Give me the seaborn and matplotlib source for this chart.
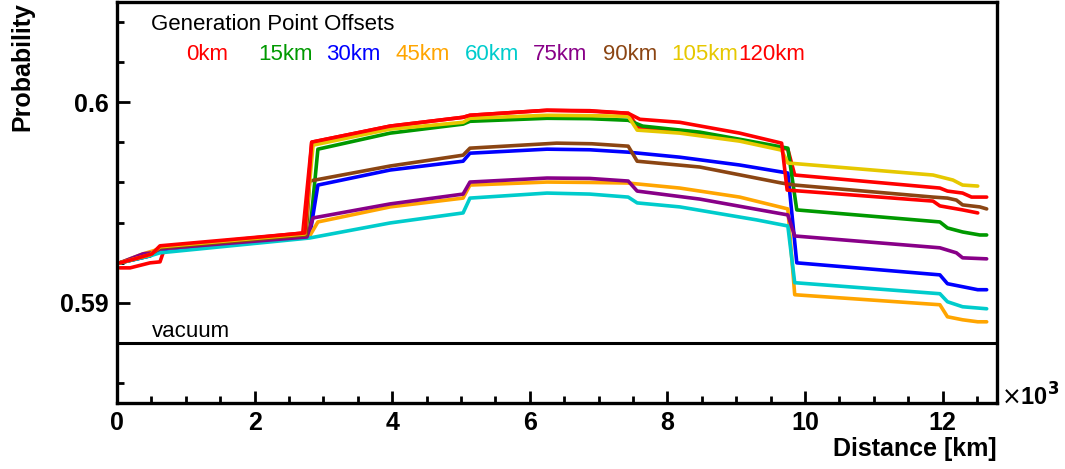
import pandas as pd
import matplotlib
matplotlib.use("Agg")
import matplotlib.pyplot as plt
import seaborn as sns

# Offsets (labels) and colours
offsets = ["0km", "15km", "30km", "45km", "60km", "75km", "90km", "105km", "120km"]
colors = ["#ff0000", "#009900", "#0000ff", "#ffa500", "#00cccc",
          "#880088", "#8b4513", "#e6c800", "#ff0000"]

# distance in km, probability
x_0 = [40, 190, 480, 625, 700, 2700, 2830, 3970, 5030, 5130, 6250, 6900, 7430, 7570,
       8470, 9750, 9850, 11960, 12070, 12290, 12420, 12640]
p_0 = [0.59174, 0.59174, 0.59199, 0.59204, 0.59279, 0.59348, 0.59801, 0.59881, 0.59925,
       0.59935, 0.59960, 0.59955, 0.59945, 0.59876, 0.59846, 0.59766, 0.59637, 0.59572,
       0.59557, 0.59547, 0.59527, 0.59527]

x_15 = [40, 480, 625, 2800, 2920, 3970, 5030, 5130, 6250, 6870, 7430, 7640, 8470, 9120,
        9750, 9880, 11960, 12070, 12290, 12540, 12640]
p_15 = [0.59199, 0.59234, 0.59269, 0.59338, 0.59766, 0.59846, 0.59891, 0.59905, 0.59920,
        0.59918, 0.59910, 0.59881, 0.59851, 0.59811, 0.59771, 0.59463, 0.59403, 0.59373,
        0.59353, 0.59338, 0.59338]

x_30 = [40, 480, 625, 2800, 2920, 3970, 5030, 5130, 6250, 6870, 7430, 8180, 9050, 9750,
        9880, 11960, 12070, 12290, 12510, 12640]
p_30 = [0.59199, 0.59234, 0.59264, 0.59333, 0.59587, 0.59662, 0.59706, 0.59746, 0.59766,
        0.59763, 0.59751, 0.59726, 0.59687, 0.59647, 0.59199, 0.59139, 0.59095, 0.59080,
        0.59065, 0.59065]

x_45 = [40, 380, 625, 2800, 2920, 3970, 5030, 5130, 6250, 6870, 7430, 8180, 9050, 9750,
        9850, 11960, 12070, 12290, 12510, 12640]
p_45 = [0.59199, 0.59244, 0.59269, 0.59333, 0.59403, 0.59478, 0.59522, 0.59587, 0.59602,
        0.59600, 0.59597, 0.59572, 0.59527, 0.59468, 0.59040, 0.58990, 0.58930, 0.58915,
        0.58905, 0.58905]

x_60 = [40, 480, 625, 2800, 3970, 5030, 5130, 6250, 6870, 7430, 7560, 8180, 9300, 9750,
        9850, 11960, 12070, 12290, 12640]
p_60 = [0.59199, 0.59234, 0.59249, 0.59323, 0.59398, 0.59448, 0.59522, 0.59547, 0.59542,
        0.59527, 0.59498, 0.59478, 0.59413, 0.59383, 0.59100, 0.59045, 0.59005, 0.58980,
        0.58970]

x_75 = [40, 380, 510, 625, 2760, 2850, 3970, 5030, 5130, 6250, 6870, 7430, 7560, 8470,
        9750, 9850, 11960, 12200, 12290, 12640]
p_75 = [0.59199, 0.59244, 0.59249, 0.59269, 0.59328, 0.59423, 0.59493, 0.59542, 0.59602,
        0.59622, 0.59620, 0.59607, 0.59557, 0.59517, 0.59438, 0.59333, 0.59274, 0.59249,
        0.59224, 0.59219]

x_90 = [40, 480, 625, 2750, 2800, 3970, 5030, 5130, 6390, 6900, 7430, 7560, 8470, 9660,
        9850, 11860, 12070, 12200, 12290, 12540, 12640]
p_90 = [0.59199, 0.59239, 0.59274, 0.59338, 0.59607, 0.59682, 0.59736, 0.59771, 0.59796,
        0.59793, 0.59781, 0.59706, 0.59677, 0.59597, 0.59587, 0.59527, 0.59522, 0.59512,
        0.59488, 0.59478, 0.59468]

x_105 = [40, 480, 625, 2730, 2850, 3970, 5030, 5130, 6250, 6870, 7430, 7560, 8180, 9050,
         9660, 9750, 11860, 12150, 12290, 12510]
p_105 = [0.59199, 0.59239, 0.59279, 0.59343, 0.59786, 0.59866, 0.59900, 0.59920, 0.59935,
         0.59933, 0.59930, 0.59861, 0.59846, 0.59806, 0.59761, 0.59697, 0.59637, 0.59612,
         0.59587, 0.59582]

x_120 = [40, 260, 510, 625, 2730, 2830, 3970, 5030, 5130, 6250, 6870, 7430, 7600, 8180,
         9050, 9660, 9740, 11860, 11960, 12290, 12510]
p_120 = [0.59199, 0.59219, 0.59244, 0.59284, 0.59348, 0.59801, 0.59881, 0.59925, 0.59935,
         0.59960, 0.59958, 0.59945, 0.59915, 0.59900, 0.59846, 0.59796, 0.59562, 0.59507,
         0.59483, 0.59463, 0.59448]

vacuum = 0.5880

series_x = [x_0, x_15, x_30, x_45, x_60, x_75, x_90, x_105, x_120]
series_p = [p_0, p_15, p_30, p_45, p_60, p_75, p_90, p_105, p_120]

rows = []
for lab, xs, ps in zip(offsets, series_x, series_p):
    for xv, pv in zip(xs, ps):
        rows.append({"offset": lab, "distance": xv, "prob": pv})
df = pd.DataFrame(rows)

sns.set_style("white")
plt.rcParams["font.family"] = ["Liberation Sans", "DejaVu Sans"]
plt.rcParams["text.color"] = "black"
plt.rcParams["axes.labelcolor"] = "black"
plt.rcParams["xtick.color"] = "black"
plt.rcParams["ytick.color"] = "black"

fig = plt.figure(figsize=(10.65, 4.69), dpi=100)
ax = fig.add_axes([117 / 1065, 66 / 469, 880 / 1065, 401 / 469])

sns.lineplot(data=df, x="distance", y="prob", hue="offset", hue_order=offsets,
             palette=dict(zip(offsets, colors)), estimator=None, sort=False,
             linewidth=2.6, legend=False, ax=ax)
ax.axhline(vacuum, color="black", linewidth=2.2)

ax.set_xlim(0, 12790)
ax.set_ylim(0.585, 0.605)

ax.set_xticks(range(0, 12001, 2000))
ax.set_xticklabels([str(v // 1000) for v in range(0, 12001, 2000)])
ax.set_xticks([v for v in range(500, 12790, 500) if v % 2000], minor=True)
ax.set_yticks([0.59, 0.60])
ax.set_yticklabels(["0.59", "0.6"])
ax.set_yticks([0.586, 0.588, 0.592, 0.594, 0.596, 0.598, 0.602, 0.604], minor=True)

ax.tick_params(axis="both", which="major", direction="in", length=9, width=2,
               labelsize=18, pad=6, bottom=True, left=True, top=False, right=False,
               colors="black")
ax.tick_params(axis="both", which="minor", direction="in", length=5, width=2,
               bottom=True, left=True, top=False, right=False, colors="black")
for lab in ax.get_xticklabels() + ax.get_yticklabels():
    lab.set_fontweight("bold")

for sp in ax.spines.values():
    sp.set_linewidth(2.4)
    sp.set_color("black")

ax.set_xlabel("Distance [km]", fontsize=18, fontweight="bold", loc="right")
ax.xaxis.set_label_coords(1.0, -0.085)
ax.set_ylabel("Probability", fontsize=18, fontweight="bold", loc="top")
ax.yaxis.set_label_coords(-0.094, 1.0)

ax.text(1.004, 0.015, r"$\times$10$^{\mathbf{3}}$", transform=ax.transAxes,
        fontsize=17, fontweight="bold", ha="left", va="center")

# legend-like labels
ax.text(0.0386, 0.930, "Generation Point Offsets", transform=ax.transAxes,
        fontsize=16, ha="left", va="baseline")
label_x = [0.0784, 0.160, 0.2375, 0.316, 0.3955, 0.473, 0.552, 0.630, 0.706]
for lab, col, lx in zip(offsets, colors, label_x):
    ax.text(lx, 0.855, lab, color=col, transform=ax.transAxes,
            fontsize=16, ha="left", va="baseline")

ax.text(0.0398, 0.1646, "vacuum", transform=ax.transAxes,
        fontsize=16, ha="left", va="baseline")

fig.savefig("out.png", dpi=100)
